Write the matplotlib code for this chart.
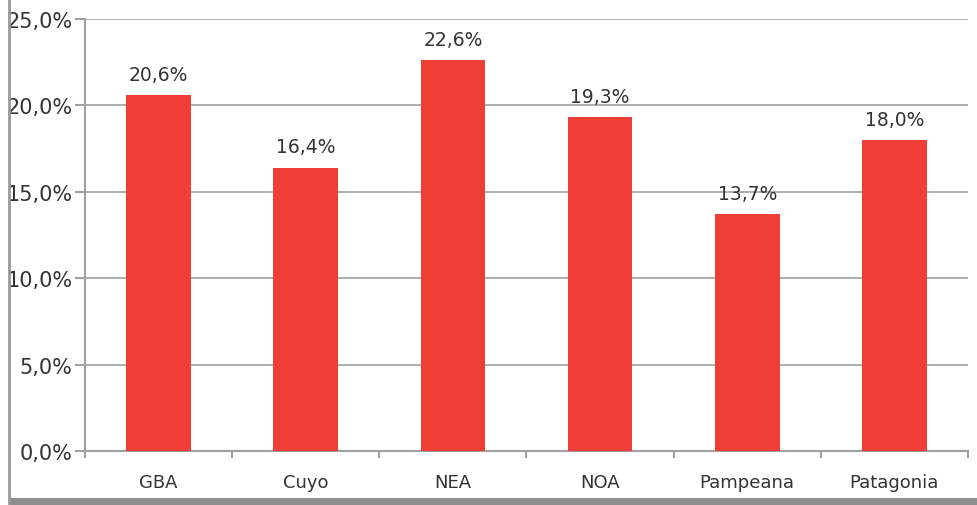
import matplotlib
matplotlib.use('Agg')
import matplotlib.pyplot as plt
from matplotlib.lines import Line2D
from matplotlib.patches import Rectangle

regiones = ['GBA', 'Cuyo', 'NEA', 'NOA', 'Pampeana', 'Patagonia']
valores = [20.6, 16.4, 22.6, 19.3, 13.7, 18.0]
yticks = [0, 5, 10, 15, 20, 25]

plt.rcParams['font.family'] = ['DejaVu Sans']

fig = plt.figure(figsize=(9.78, 5.06), dpi=100)
ax = fig.add_axes([85 / 978, 1 - 452 / 506, 883 / 978, 432 / 506])

x = range(len(regiones))
ax.bar(x, valores, width=0.44, color='#ef3e36', zorder=3)

for xi, v in zip(x, valores):
    ax.annotate('{:.1f}%'.format(v).replace('.', ','), (xi, v),
                xytext=(0, 8), textcoords='offset points',
                ha='center', va='bottom', fontsize=13.5, color='#333333')

ax.set_xlim(-0.5, len(regiones) - 0.5)
ax.set_ylim(0, 25)
ax.set_yticks(yticks)
ax.set_yticklabels(['{:.1f}%'.format(t).replace('.', ',') for t in yticks],
                   fontsize=15, color='#333333')
ax.set_xticks(list(x))
ax.set_xticklabels(regiones, fontsize=13, color='#333333')
ax.set_xticks([i - 0.5 for i in range(len(regiones) + 1)], minor=True)
ax.tick_params(axis='x', which='major', length=0, pad=16)
ax.tick_params(axis='x', which='minor', length=5, color='#a0a0a0', width=1.5)
ax.tick_params(axis='y', length=7, color='#a0a0a0', width=1.5, pad=2)

ax.grid(axis='y', color='#a8a8a8', linewidth=1.3, zorder=0)
for s in ['top', 'right']:
    ax.spines[s].set_visible(False)
for s in ['left', 'bottom']:
    ax.spines[s].set_color('#a0a0a0')
    ax.spines[s].set_linewidth(1.5)

# outer frame
fig.add_artist(Line2D([9 / 978, 9 / 978], [0, 1], color='#9a9a9a', linewidth=2))
fig.add_artist(Rectangle((9 / 978, 0), 1, 7 / 506, color='#8e8e8e', linewidth=0))

fig.savefig('out.png', dpi=100)
